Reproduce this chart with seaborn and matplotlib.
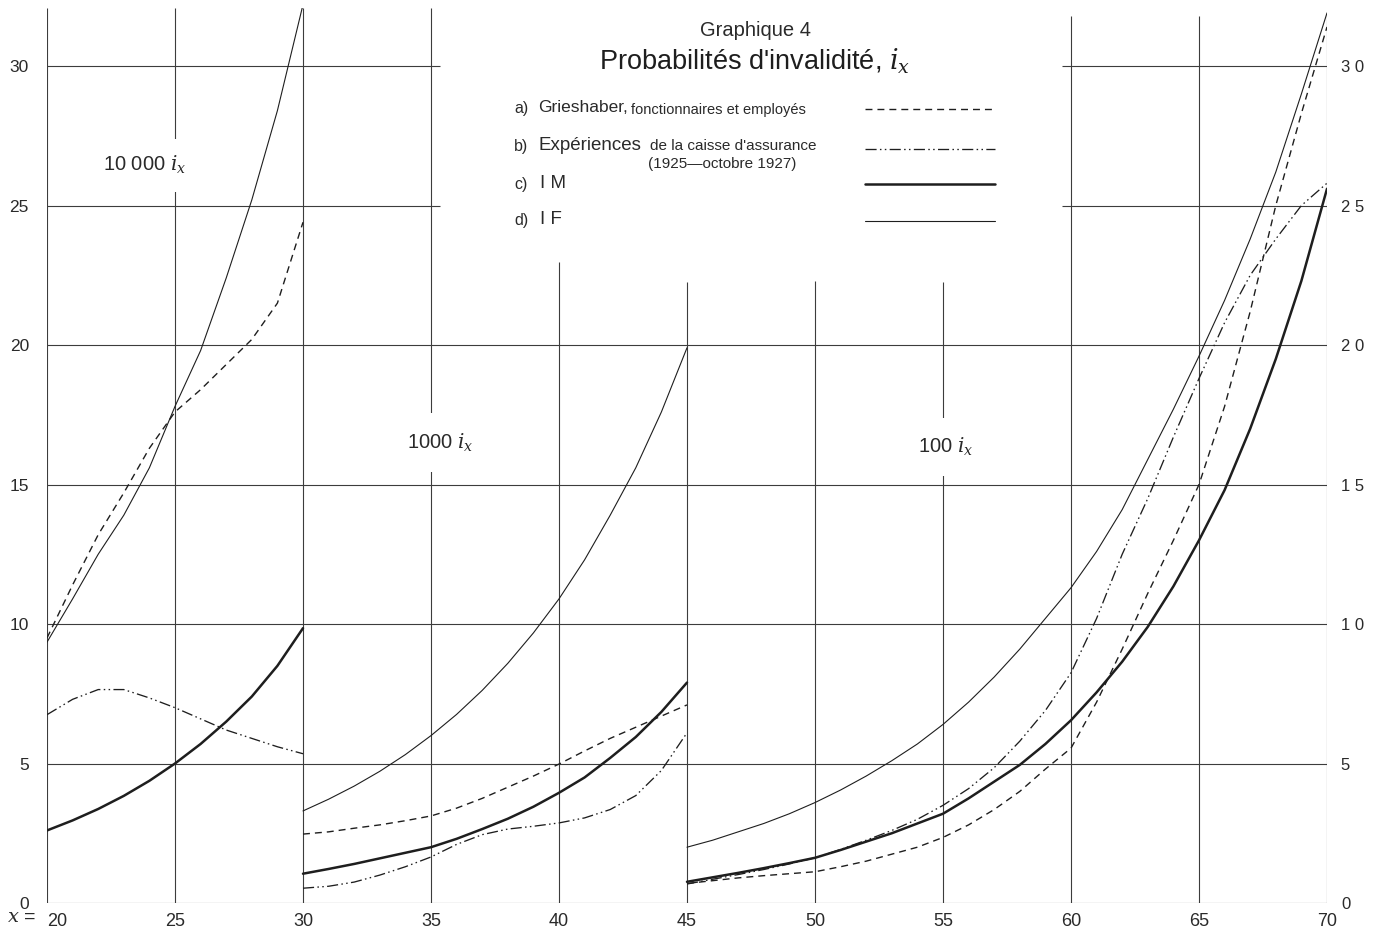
import matplotlib
matplotlib.use("Agg")
import matplotlib.pyplot as plt
import seaborn as sns
import pandas as pd

# ---------------- data ----------------
# Segment 1 : ages 20-30, scale 10 000 i_x
ages_1 = [20, 21, 22, 23, 24, 25, 26, 27, 28, 29, 30]
grieshaber_1 = [9.5, 11.4, 13.2, 14.7, 16.3, 17.6, 18.4, 19.3, 20.2, 21.5, 24.4]
experience_1 = [6.75, 7.3, 7.65, 7.65, 7.35, 7.0, 6.6, 6.2, 5.9, 5.6, 5.35]
im_1 = [2.6, 2.96, 3.37, 3.84, 4.38, 5.0, 5.7, 6.5, 7.4, 8.5, 9.85]
if_1 = [9.35, 10.9, 12.5, 13.9, 15.6, 17.8, 19.8, 22.4, 25.2, 28.4, 32.2]

# Segment 2 : ages 30-45, scale 1000 i_x
ages_2 = [30, 31, 32, 33, 34, 35, 36, 37, 38, 39, 40, 41, 42, 43, 44, 45]
grieshaber_2 = [2.47, 2.55, 2.68, 2.8, 2.95, 3.12, 3.4, 3.75, 4.15, 4.55, 4.98,
                5.45, 5.9, 6.3, 6.7, 7.1]
experience_2 = [0.53, 0.6, 0.75, 1.0, 1.3, 1.65, 2.1, 2.45, 2.65, 2.75, 2.87,
                3.05, 3.35, 3.85, 4.75, 6.1]
im_2 = [1.05, 1.22, 1.4, 1.6, 1.8, 2.0, 2.3, 2.65, 3.02, 3.45, 3.95,
        4.5, 5.2, 5.95, 6.85, 7.9]
if_2 = [3.3, 3.72, 4.19, 4.72, 5.32, 6.0, 6.76, 7.62, 8.59, 9.68, 10.9,
        12.3, 13.9, 15.6, 17.6, 19.9]

# Segment 3 : ages 45-70, scale 100 i_x
ages_3 = [45, 46, 47, 48, 49, 50, 51, 52, 53, 54, 55, 56, 57, 58, 59, 60,
          61, 62, 63, 64, 65, 66, 67, 68, 69, 70]
grieshaber_3 = [0.7, 0.8, 0.9, 0.98, 1.05, 1.12, 1.3, 1.5, 1.75, 2.0, 2.35,
                2.8, 3.35, 4.0, 4.8, 5.55, 7.2, 9.1, 11.1, 13.0, 15.0,
                17.8, 21.2, 25.0, 28.3, 31.4]
experience_3 = [0.68, 0.85, 1.02, 1.2, 1.4, 1.62, 1.92, 2.25, 2.6, 3.0, 3.5,
                4.1, 4.85, 5.8, 6.9, 8.25, 10.2, 12.5, 14.5, 16.7, 18.8,
                20.8, 22.5, 23.8, 25.0, 25.8]
im_3 = [0.76, 0.92, 1.08, 1.25, 1.43, 1.62, 1.9, 2.2, 2.5, 2.85, 3.2,
        3.75, 4.35, 4.95, 5.7, 6.55, 7.55, 8.65, 9.9, 11.35, 13.0,
        14.8, 17.0, 19.5, 22.3, 25.6]
if_3 = [2.0, 2.25, 2.55, 2.85, 3.2, 3.6, 4.05, 4.55, 5.1, 5.7, 6.4,
        7.2, 8.1, 9.1, 10.2, 11.3, 12.6, 14.1, 15.9, 17.7, 19.6,
        21.6, 23.8, 26.2, 29.0, 31.9]

x_ticks = [20, 25, 30, 35, 40, 45, 50, 55, 60, 65, 70]
y_ticks = [0, 5, 10, 15, 20, 25, 30]
left_labels = ["0", "5", "10", "15", "20", "25", "30"]
right_labels = ["0", "5", "1 0", "1 5", "2 0", "2 5", "3 0"]

scale_labels = ["10 000 $i_x$", "1000 $i_x$", "100 $i_x$"]
legend_labels = ["a)", "b)", "c)", "d)"]

# ---------------- style ----------------
sns.set_style("white")
plt.rcParams["font.family"] = ["Liberation Sans", "DejaVu Sans"]
plt.rcParams["mathtext.fontset"] = "dejavuserif"
plt.rcParams["lines.scale_dashes"] = False

INK = "#1e1e1e"
GRID = "#3c3c3c"
TXT = "#2a2a2a"
W, H = 1383, 935

def fx(px):
    return px / W

def fy(py):
    return 1 - py / H

fig = plt.figure(figsize=(W / 100, H / 100), dpi=100)
fig.patch.set_facecolor("white")
ymax = (903 - 8) / 27.9
ax = fig.add_axes([fx(47), fy(903), fx(1327) - fx(47), (903 - 8) / H])
ax.set_xlim(20, 70)
ax.set_ylim(0, ymax)
for s in ax.spines.values():
    s.set_visible(False)
ax.set_facecolor("white")

# ---------------- grid ----------------
v_tops = {20: ymax, 25: ymax, 30: ymax, 35: ymax, 40: 22.97, 45: 22.26,
          50: 22.3, 55: 22.26, 60: 31.8, 65: 31.8, 70: 31.95}
for xv in x_ticks:
    ax.vlines(xv, 0, v_tops[xv], color=GRID, lw=0.8, zorder=1)
for yv in y_ticks:
    if yv <= 20:
        ax.hlines(yv, 20, 70, color=GRID, lw=0.8, zorder=1)
    else:
        ax.hlines(yv, 20, 35.35, color=GRID, lw=0.8, zorder=1)
        ax.hlines(yv, 59.65, 70, color=GRID, lw=0.8, zorder=1)

# ---------------- curves ----------------
DASH = (0, (5.0, 3.6))
DASHDOTDOT = (0, (8.0, 2.4, 1.1, 2.4, 1.1, 2.4))
styles = {
    "a": dict(lw=1.0, ls=DASH),
    "b": dict(lw=0.95, ls=DASHDOTDOT),
    "c": dict(lw=1.8, ls="-"),
    "d": dict(lw=0.8, ls="-"),
}
segments = [
    (ages_1, {"a": grieshaber_1, "b": experience_1, "c": im_1, "d": if_1}),
    (ages_2, {"a": grieshaber_2, "b": experience_2, "c": im_2, "d": if_2}),
    (ages_3, {"a": grieshaber_3, "b": experience_3, "c": im_3, "d": if_3}),
]
for ages, series in segments:
    for key, vals in series.items():
        df = pd.DataFrame({"age": ages, "val": vals})
        sns.lineplot(data=df, x="age", y="val", ax=ax, color=INK,
                     linewidth=styles[key]["lw"], linestyle=styles[key]["ls"],
                     estimator=None, sort=False, legend=False, zorder=4)

ax.set_xlabel("")
ax.set_ylabel("")

# ---------------- ticks ----------------
ax.set_xticks(x_ticks)
ax.set_xticklabels([str(t) for t in x_ticks], fontsize=13, color=TXT)
ax.set_yticks(y_ticks)
ax.set_yticklabels(left_labels, fontsize=12.5, color=TXT)
ax.tick_params(axis="both", length=0)
ax.tick_params(axis="x", pad=7)
ax.tick_params(axis="y", pad=13)
ax.get_xticklabels()[0].set_horizontalalignment("left")
axr = ax.twinx()
axr.set_ylim(0, ymax)
for s in axr.spines.values():
    s.set_visible(False)
axr.set_yticks(y_ticks)
axr.set_yticklabels(right_labels, fontsize=12, color=TXT)
axr.tick_params(axis="y", length=0, pad=10)

fig.text(fx(21), fy(918), "$x$ =", fontsize=14, ha="center", va="center",
         color=TXT)

# ---------------- scale labels ----------------
ax.text(23.8, 26.45, scale_labels[0], fontsize=14.5, ha="center", va="center",
        color=TXT, bbox=dict(facecolor="white", edgecolor="none", pad=11), zorder=3)
box = dict(facecolor="white", edgecolor="none", pad=13)
ax.text(35.35, 16.5, scale_labels[1], fontsize=14.5, ha="center", va="center",
        color=TXT, bbox=box, zorder=3)
ax.text(55.1, 16.35, scale_labels[2], fontsize=14.5, ha="center", va="center",
        color=TXT, bbox=box, zorder=3)

# ---------------- title ----------------
fig.text(fx(755), fy(31), "Graphique 4", fontsize=14.5, ha="center", va="center",
         color=TXT)
fig.text(fx(755), fy(61), "Probabilités d'invalidité, $i_x$", fontsize=19.5,
         ha="center", va="center", color="#1e1e1e")

# ---------------- legend ----------------
fig.text(fx(514), fy(109), legend_labels[0], fontsize=11.5, va="center", color=TXT)
fig.text(fx(538), fy(108), "Grieshaber,", fontsize=12.5, va="center", color=TXT)
fig.text(fx(631), fy(110), "fonctionnaires et employés", fontsize=10.5, va="center", color=TXT)
fig.text(fx(514), fy(146), legend_labels[1], fontsize=11.5, va="center", color=TXT)
fig.text(fx(539), fy(145), "Expériences", fontsize=13.5, va="center", color=TXT)
fig.text(fx(650), fy(146), "de la caisse d'assurance", fontsize=11, va="center", color=TXT)
fig.text(fx(648), fy(164), "(1925—octobre 1927)", fontsize=11, va="center", color=TXT)
fig.text(fx(514), fy(184), legend_labels[2], fontsize=11.5, va="center", color=TXT)
fig.text(fx(540), fy(183), "I M", fontsize=13.5, va="center", color=TXT)
fig.text(fx(514), fy(221), legend_labels[3], fontsize=11.5, va="center", color=TXT)
fig.text(fx(540), fy(220), "I F", fontsize=13.5, va="center", color=TXT)

for py, key in [(109, "a"), (149, "b"), (184, "c"), (221, "d")]:
    fig.add_artist(plt.Line2D([fx(865), fx(995)], [fy(py), fy(py)],
                              transform=fig.transFigure, color=INK,
                              lw=styles[key]["lw"], linestyle=styles[key]["ls"]))

fig.savefig("out.png", dpi=100, facecolor="white")
